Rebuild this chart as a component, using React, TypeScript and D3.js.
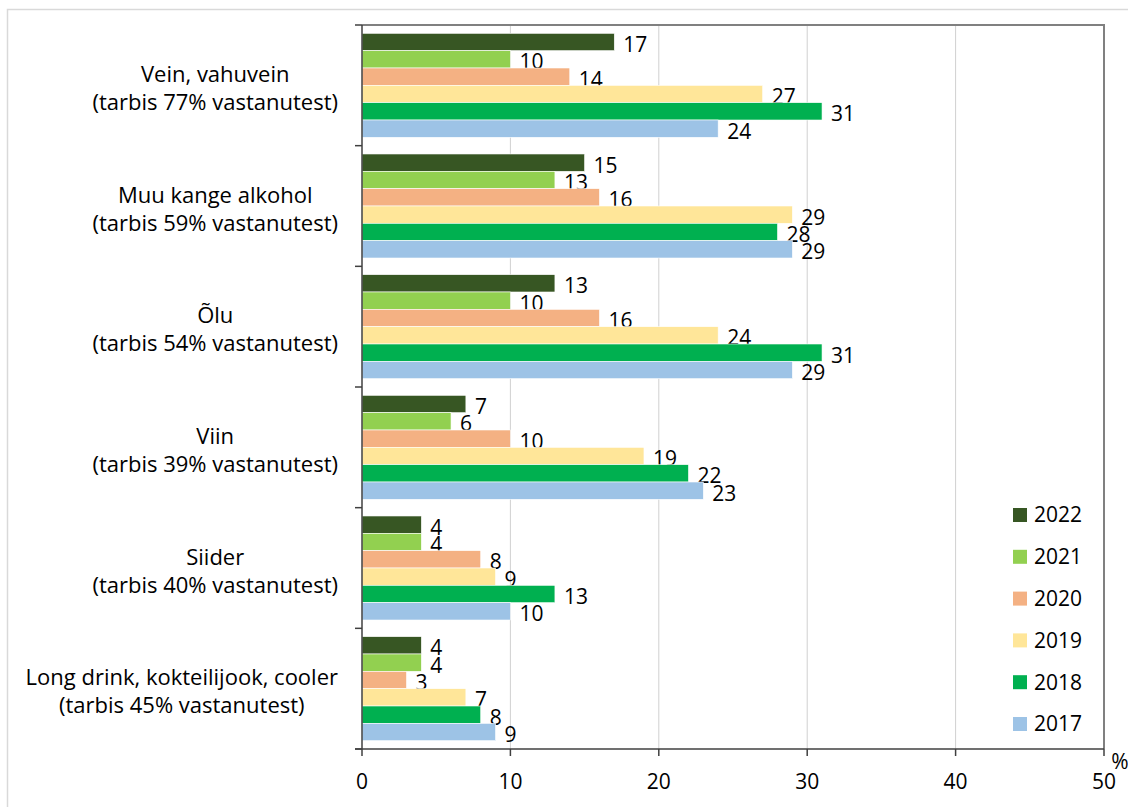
import React from "react";
import * as d3 from "d3";

const categories = [
  ["Vein, vahuvein", "(tarbis 77% vastanutest)"],
  ["Muu kange alkohol", "(tarbis 59% vastanutest)"],
  ["Õlu", "(tarbis 54% vastanutest)"],
  ["Viin", "(tarbis 39% vastanutest)"],
  ["Siider", "(tarbis 40% vastanutest)"],
  ["Long drink, kokteilijook, cooler", "(tarbis 45% vastanutest)"],
];
const years = ["2022", "2021", "2020", "2019", "2018", "2017"];
const v2022 = [17, 15, 13, 7, 4, 4];
const v2021 = [10, 13, 10, 6, 4, 4];
const v2020 = [14, 16, 16, 10, 8, 3];
const v2019 = [27, 29, 24, 19, 9, 7];
const v2018 = [31, 28, 31, 22, 13, 8];
const v2017 = [24, 29, 29, 23, 10, 9];
const xTicks = [0, 10, 20, 30, 40, 50];

const seriesValues = [v2022, v2021, v2020, v2019, v2018, v2017];
const colors = ["#375623", "#92D050", "#F4B183", "#FFE699", "#00B050", "#9DC3E6"];

const FONT = "'Open Sans', sans-serif";
const FS = 21;
const FSC = 22;

function measure(t: string): number {
  const c = document.createElement("canvas");
  const ctx = c.getContext("2d")!;
  ctx.font = `${FSC}px 'Open Sans'`;
  return ctx.measureText(t).width;
}

export default function App() {
  const W = 1128, H = 807;
  const left = 362, right = 1104, top = 25, bottom = 749;
  const x = d3.scaleLinear().domain([0, 50]).range([left, right]);
  const y0 = d3.scaleBand<number>().domain(d3.range(categories.length)).range([top, bottom]);
  const y1 = d3.scaleBand<number>().domain(d3.range(years.length)).range([0, y0.bandwidth()]).paddingOuter(0.48).paddingInner(0);
  const bounds = y0.domain().map((i) => y0(i)!).concat([bottom]);

  return (
    <svg width={W} height={H} style={{ position: "absolute", left: 0, top: 0 }} fontFamily={FONT}>
      <rect x={0} y={0} width={W} height={H} fill="#fff" />
      <rect x={7.5} y={9.5} width={W + 20} height={H + 20} fill="none" stroke="#d9d9d9" strokeWidth={1.5} />
      {xTicks.slice(1, -1).map((t) => (
        <line key={t} x1={x(t)} x2={x(t)} y1={top} y2={bottom} stroke="#d0d0d0" strokeWidth={1} />
      ))}
      {categories.map((c, ci) => (
        <g key={ci}>
          {years.map((yr, si) => {
            const v = seriesValues[si][ci];
            const yy = y0(ci)! + y1(si)!;
            return (
              <g key={yr}>
                <rect x={x(0)} y={yy} width={x(v) - x(0)} height={y1.bandwidth()} fill={colors[si]} stroke="#fff" strokeWidth={0.6} />
                <text x={x(v) + 9} y={yy + y1.bandwidth() / 2 + 2.5} dy="0.35em" fontSize={FS} fill="#000">{v}</text>
              </g>
            );
          })}
        </g>
      ))}
      {/* plot frame top & right */}
      <polyline points={`${left},${top} ${right},${top} ${right},${bottom}`} fill="none" stroke="#808080" strokeWidth={2} />
      {/* axes */}
      <line x1={left} x2={left} y1={top} y2={bottom} stroke="#404040" strokeWidth={1.5} />
      <line x1={left - 7} x2={right} y1={bottom} y2={bottom} stroke="#404040" strokeWidth={1.5} />
      {bounds.map((b, i) => (
        <line key={i} x1={left - 7} x2={left} y1={b} y2={b} stroke="#404040" strokeWidth={1.5} />
      ))}
      {xTicks.map((t) => (
        <g key={t}>
          <line x1={x(t)} x2={x(t)} y1={bottom} y2={bottom + 7} stroke="#404040" strokeWidth={1.5} />
          <text x={x(t)} y={782} dy="0.35em" textAnchor="middle" fontSize={FS}>{t}</text>
        </g>
      ))}
      <text x={1120} y={762} dy="0.35em" textAnchor="middle" fontSize={FS}>%</text>
      {categories.map((lines, ci) => {
        const w = Math.max(...lines.map(measure));
        const cx = 338 - w / 2;
        const cy = y0(ci)! + y0.bandwidth() / 2;
        return (
          <g key={ci}>
            <text x={cx} y={cy - 11} dy="0.35em" textAnchor="middle" fontSize={FSC}>{lines[0]}</text>
            <text x={cx} y={cy + 17} dy="0.35em" textAnchor="middle" fontSize={FSC}>{lines[1]}</text>
          </g>
        );
      })}
      {years.map((yr, i) => (
        <g key={yr} transform={`translate(1013, ${515 + i * 41.8})`}>
          <rect x={0} y={-7} width={14} height={14} fill={colors[i]} />
          <text x={21} y={0} dy="0.35em" fontSize={FS}>{yr}</text>
        </g>
      ))}
    </svg>
  );
}
